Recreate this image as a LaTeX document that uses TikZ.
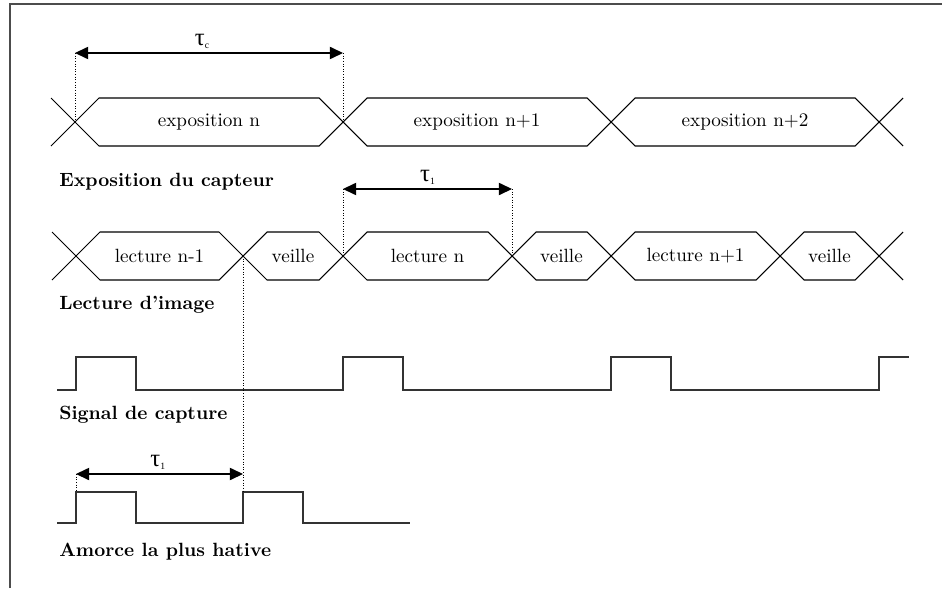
\documentclass[tikz,border=0pt]{standalone}
\usepackage{fontspec}
\usetikzlibrary{arrows.meta}
\newfontfamily\grecfont{Liberation Serif}

\tikzset{
  bus/.style={line width=0.6pt},
  signal/.style={line width=0.7pt, black!80},
  cote/.style={<->, line width=0.7pt},
  rappel/.style={densely dotted, line width=0.5pt},
  titre/.style={anchor=west, inner sep=0pt, font=\fontsize{10.9}{13}\selectfont\bfseries},
  etiq/.style={font=\fontsize{10.9}{13}\selectfont},
  tau/.style={above=0pt, inner sep=2pt, font=\grecfont\fontsize{14}{16}\selectfont}
}

% segment de bus : x debut, x fin, y milieu, texte, nom
\newcommand{\segbus}[5]{%
  \draw[bus] (#1,#3) -- ({#1+24},{#3-24}) -- ({#2-24},{#3-24}) -- (#2,#3)
    -- ({#2-24},{#3+24}) -- ({#1+24},{#3+24}) -- cycle;
  \node[etiq] (#5) at ({(#1+#2)/2},#3) {#4};
}
% lettre tau avec petit indice
\newcommand{\tauind}[1]{τ\raisebox{-2pt}{\fontsize{5.5}{6}\selectfont #1}}

\begin{document}
\begin{tikzpicture}[x=0.02cm, y=-0.02cm, >={Triangle[length=7.5pt,width=7pt]}]
    \useasboundingbox (0,0) rectangle (942,588);
    % Cadre
    \draw[black!70, line width=0.6pt] (10,588) -- (10,4) -- (942,4);

    % Exposition du capteur
    \segbus{75}{343}{122}{exposition n}{expA}
    \segbus{343}{611}{122}{exposition n+1}{expB}
    \segbus{611}{879}{122}{exposition n+2}{expC}
    \draw[bus] (51,98) -- (75,122) -- (51,146);
    \draw[bus] (903,98) -- (879,122) -- (903,146);
    \node[titre] (lblExp) at (59,182) {Exposition du capteur};

    \coordinate (tcA) at (75,53);
    \coordinate (tcB) at (343,53);
    \draw[rappel] (tcA) -- (75,122);
    \draw[rappel] (tcB) -- (343,122);
    \draw[cote] (tcA) -- node[tau, xshift=-4pt] (tauC) {\tauind{c}} (tcB);

    % Lecture d'image
    \segbus{76}{243}{256}{lecture n-1}{lecA}
    \segbus{243}{343}{256}{veille}{veiA}
    \segbus{343}{512}{256}{lecture n}{lecB}
    \segbus{512}{611}{256}{veille}{veiB}
    \segbus{611}{780}{256}{lecture n+1}{lecC}
    \segbus{780}{879}{256}{veille}{veiC}
    \draw[bus] (52,232) -- (76,256) -- (52,280);
    \draw[bus] (903,232) -- (879,256) -- (903,280);
    \node[titre] (lblLec) at (59,305) {Lecture d'image};

    \coordinate (t1A) at (343,189);
    \coordinate (t1B) at (512,189);
    \draw[rappel] (t1A) -- (343,256);
    \draw[rappel] (t1B) -- (512,256);
    \draw[cote] (t1A) -- node[tau] (tauA) {\tauind{1}} (t1B);

    % Signal de capture
    \draw[signal] (57,390) -- (76,390) -- (76,357) -- (136,357) -- (136,390)
      -- (343,390) -- (343,357) -- (403,357) -- (403,390)
      -- (611,390) -- (611,357) -- (671,357) -- (671,390)
      -- (879,390) -- (879,357) -- (909,357);
    \node[titre] (lblSig) at (59,415) {Signal de capture};

    % Amorce la plus hative
    \draw[signal] (57,523) -- (76,523) -- (76,492) -- (136,492) -- (136,523)
      -- (243,523) -- (243,492) -- (303,492) -- (303,523) -- (410,523);
    \node[titre] (lblAmo) at (59,552) {Amorce la plus hative};

    \coordinate (t2A) at (76,474);
    \coordinate (t2B) at (243,474);
    \draw[rappel] (t2A) -- (76,492);
    \draw[rappel] (243,256) -- (243,492);
    \draw[cote] (t2A) -- node[tau, xshift=-1pt] (tauB) {\tauind{1}} (t2B);
\end{tikzpicture}
\end{document}
